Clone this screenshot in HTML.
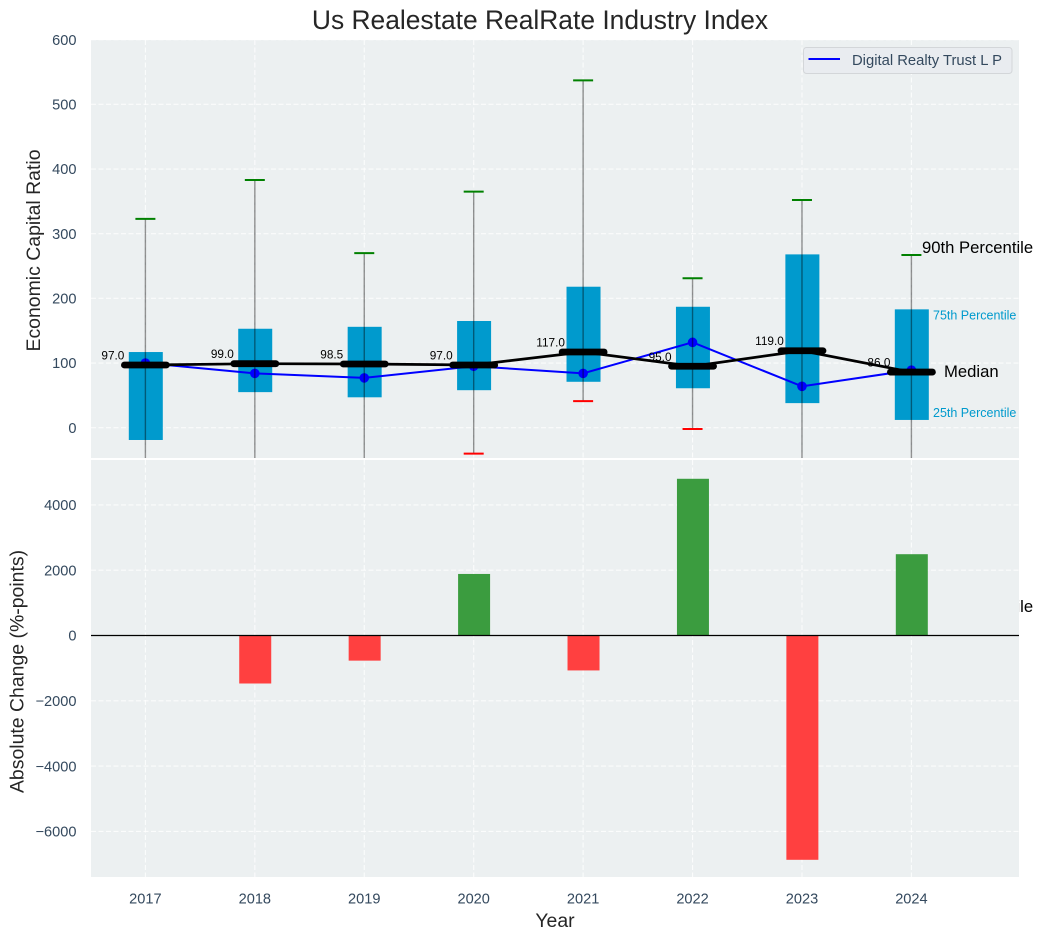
<!DOCTYPE html>
<html lang="en">
<head>
<meta charset="utf-8">
<title>Us Realestate RealRate Industry Index</title>
<style>
html,body{margin:0;padding:0;background:#fff;}
svg{display:block;font-family:"Liberation Sans",Arial,sans-serif;}
</style>
</head>
<body>
<svg id="chart" xmlns="http://www.w3.org/2000/svg" width="1043" height="940" viewBox="0 0 1043 940"></svg>
<script>
const years = [2017, 2018, 2019, 2020, 2021, 2022, 2023, 2024];
const p90 = [323, 383, 270, 365, 537, 231, 352, 267];
const p75 = [117, 153, 156, 165, 218, 187, 268, 183];
const medians = [97.0, 99.0, 98.5, 97.0, 117.0, 95.0, 119.0, 86.0];
const p25 = [-19, 55, 47, 58, 71, 61, 38, 12];
const p10 = [-120, -90, -100, -40, 41, -2, -110, -130];
const company = [100, 84, 77, 95, 84, 132, 64, 89];
const changes = [0, -1470, -770, 1885, -1070, 4800, -6870, 2490];
const topTicks = [0, 100, 200, 300, 400, 500, 600];
const bottomTicks = [-6000, -4000, -2000, 0, 2000, 4000];

const svg = document.getElementById('chart');
const NS = 'http://www.w3.org/2000/svg';
const plotL = 91, plotR = 1019, topT = 40, topB = 458, botT = 460, botB = 877;

function xPos(v) { return 145.4 + (v - 2017) * 109.43; }
function yTop(v) { return 427.7 - v * 0.6467; }
function yBot(v) { return 635.5 - v * 0.03265; }

function make(tag, attrs, parent, text) {
  const el = document.createElementNS(NS, tag);
  for (const k in attrs) el.setAttribute(k, attrs[k]);
  if (text !== undefined) el.textContent = text;
  (parent || svg).appendChild(el);
  return el;
}

const defs = make('defs', {});
const clip = make('clipPath', { id: 'top-clip' }, defs);
make('rect', { x: plotL, y: topT, width: plotR - plotL, height: topB - topT }, clip);
const clip2 = make('clipPath', { id: 'bot-clip' }, defs);
make('rect', { x: plotL, y: botT, width: plotR - plotL, height: botB - botT }, clip2);

const BG = '#ecf0f1', TICK = '#34495e', TEXT = '#262626';

// Stray copy of the annotation: hidden by the lower panel except for its tail
const strayLabel = make('text', { x: 922, y: 612, 'font-size': 16.67, fill: '#000' }, svg, '90th Percentile');



// Panels
const topBg = make('rect', { x: plotL, y: topT, width: plotR - plotL, height: topB - topT, fill: BG });


const botBg = make('rect', { x: plotL, y: botT, width: plotR - plotL, height: botB - botT, fill: BG });



// Grid
const gridStyle = { stroke: '#fff', 'stroke-width': 1.1, 'stroke-dasharray': '5 2.5', 'stroke-opacity': 0.8 };
const gridG = make('g', gridStyle);


years.forEach(function (yr) {
  make('line', { x1: xPos(yr), x2: xPos(yr), y1: topT, y2: topB }, gridG);
  make('line', { x1: xPos(yr), x2: xPos(yr), y1: botT, y2: botB }, gridG);
});
topTicks.forEach(function (t) {
  make('line', { x1: plotL, x2: plotR, y1: yTop(t), y2: yTop(t) }, gridG);
});
bottomTicks.forEach(function (t) {
  make('line', { x1: plotL, x2: plotR, y1: yBot(t), y2: yBot(t) }, gridG);
});

// Tick labels
years.forEach(function (yr) {
  const t = make('text', { x: xPos(yr), y: 903.5, 'text-anchor': 'middle', 'font-size': 14.58, fill: TICK }, svg, String(yr));
  
  
});
topTicks.forEach(function (v) {
  const t = make('text', { x: 76.5, y: yTop(v) + 5.2, 'text-anchor': 'end', 'font-size': 14.58, fill: TICK }, svg, String(v));
  
  
});
bottomTicks.forEach(function (v) {
  const t = make('text', { x: 76.5, y: yBot(v) + 5.2, 'text-anchor': 'end', 'font-size': 14.58, fill: TICK }, svg, String(v).replace('-', '\u2212'));
  
  
});

// Boxes
const topG = make('g', { 'clip-path': 'url(#top-clip)' });


const boxHalf = 17;
years.forEach(function (yr, i) {
  const b = make('rect', { x: xPos(yr) - boxHalf + 0.4, y: yTop(p75[i]), width: boxHalf * 2, height: yTop(p25[i]) - yTop(p75[i]), fill: '#009acd' }, topG);
  
  
});

// Company series
const companyPts = years.map(function (yr, i) { return xPos(yr) + ',' + yTop(company[i]); }).join(' ');
const companyLine = make('polyline', { points: companyPts, fill: 'none', stroke: '#0000ff', 'stroke-width': 2 }, topG);


years.forEach(function (yr, i) {
  const c = make('circle', { cx: xPos(yr), cy: yTop(company[i]), r: 4.8, fill: '#0000ff' }, topG);
  
  
});

// Whiskers and caps
years.forEach(function (yr, i) {
  const w = make('line', { x1: xPos(yr), x2: xPos(yr), y1: yTop(p90[i]), y2: yTop(p10[i]), stroke: '#000', 'stroke-opacity': 0.42, 'stroke-width': 1.4 }, topG);
  
  
  const up = make('line', { x1: xPos(yr) - 10, x2: xPos(yr) + 10, y1: yTop(p90[i]), y2: yTop(p90[i]), stroke: '#008000', 'stroke-width': 2 }, topG);
  
  
  const lo = make('line', { x1: xPos(yr) - 10, x2: xPos(yr) + 10, y1: yTop(p10[i]), y2: yTop(p10[i]), stroke: '#ff0000', 'stroke-width': 2 }, topG);
  
  
});

// Median line and ticks
const medianPts = years.map(function (yr, i) { return xPos(yr) + ',' + yTop(medians[i]); }).join(' ');
const medianLine = make('polyline', { points: medianPts, fill: 'none', stroke: '#000', 'stroke-width': 2.7 }, topG);


years.forEach(function (yr, i) {
  const m = make('line', { x1: xPos(yr) - 21, x2: xPos(yr) + 21, y1: yTop(medians[i]), y2: yTop(medians[i]), stroke: '#000', 'stroke-width': 6.8, 'stroke-linecap': 'round' }, topG);
  
  
  const l = make('text', { x: xPos(yr) - 32.5, y: yTop(medians[i]) - 5.5, 'text-anchor': 'middle', 'font-size': 11.8, fill: '#000' }, svg, medians[i].toFixed(1));
  
  
});

// Change bars
const botG = make('g', { 'clip-path': 'url(#bot-clip)' });


const barHalf = 16;
years.forEach(function (yr, i) {
  const v = changes[i];
  const r = make('rect', {
    x: xPos(yr) - barHalf + 0.4, width: barHalf * 2,
    y: Math.min(yBot(v), yBot(0)), height: Math.abs(yBot(v) - yBot(0)),
    fill: v >= 0 ? '#3b9c3f' : '#ff4040'
  }, botG);
  
  
});
const zero = make('line', { x1: plotL, x2: plotR, y1: yBot(0), y2: yBot(0), stroke: '#000', 'stroke-width': 1.3 });



// Annotations on the final year
const last = years.length - 1;
const a90 = make('text', { x: 922, y: yTop(p90[last]) - 2, 'font-size': 16.67, fill: '#000' }, svg, '90th Percentile');


const a75 = make('text', { x: 933, y: yTop(p75[last]) + 10, 'font-size': 12.5, fill: '#009acd' }, svg, '75th Percentile');


const aMed = make('text', { x: 944, y: yTop(medians[last]) + 5, 'font-size': 16.67, fill: '#000' }, svg, 'Median');


const a25 = make('text', { x: 933, y: yTop(p25[last]) - 3, 'font-size': 12.5, fill: '#009acd' }, svg, '25th Percentile');



// Legend
const legend = make('g', {});


const legendBox = make('rect', { x: 803.5, y: 47.5, width: 208.5, height: 26, rx: 3, fill: '#e9ecf0', stroke: '#d3d6d9', 'stroke-width': 1 }, legend);


const legendLine = make('line', { x1: 808.5, x2: 840, y1: 59, y2: 59, stroke: '#0000ff', 'stroke-width': 2 }, legend);


const legendText = make('text', { x: 852, y: 65, 'font-size': 14.8, fill: TICK }, legend, 'Digital Realty Trust L P');



// Titles
const title = make('text', { x: 540, y: 29, 'text-anchor': 'middle', 'font-size': 26.4, fill: TEXT }, svg, 'Us Realestate RealRate Industry Index');


const xTitle = make('text', { x: 555, y: 927, 'text-anchor': 'middle', 'font-size': 19.44, fill: TEXT }, svg, 'Year');


const yTitle1 = make('text', { transform: 'translate(40,250.5) rotate(-90)', 'text-anchor': 'middle', 'font-size': 19.44, fill: TEXT }, svg, 'Economic Capital Ratio');


const yTitle2 = make('text', { transform: 'translate(23.5,671.5) rotate(-90)', 'text-anchor': 'middle', 'font-size': 19.44, fill: TEXT }, svg, 'Absolute Change (%-points)');


</script>
</body>
</html>
